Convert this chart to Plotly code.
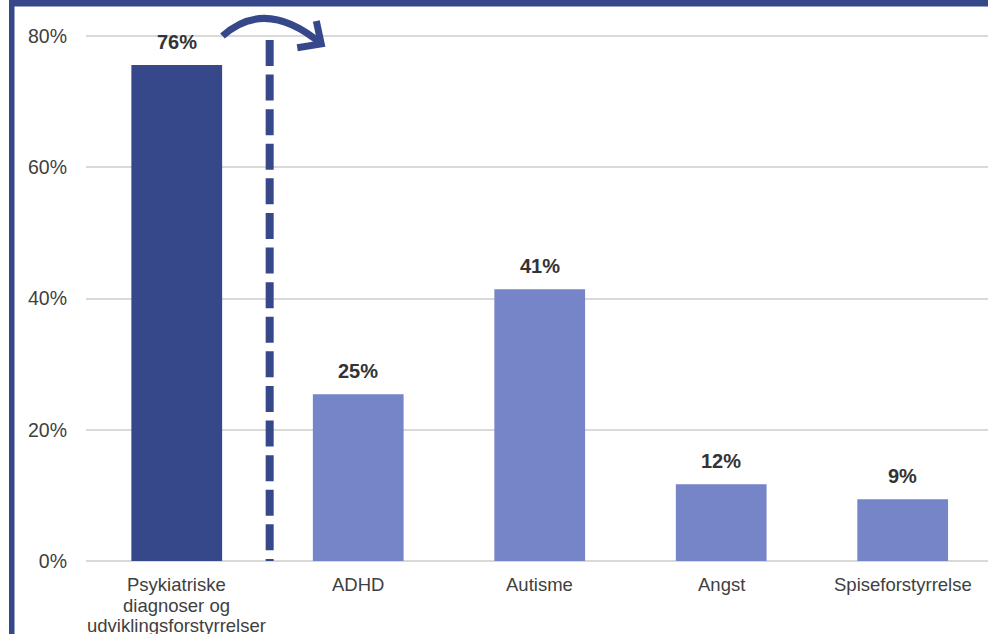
import plotly.graph_objects as go

# data
categories = ["Psykiatriske diagnoser og udviklingsforstyrrelser",
              "ADHD", "Autisme", "Angst", "Spiseforstyrrelse"]
category_lines = [["Psykiatriske", "diagnoser og", "udviklingsforstyrrelser"],
                  ["ADHD"], ["Autisme"], ["Angst"], ["Spiseforstyrrelse"]]
values = [75.6, 25.4, 41.4, 11.7, 9.4]
labels = ["76%", "25%", "41%", "12%", "9%"]
y_ticks = [0, 20, 40, 60, 80]
y_tick_text = ["0%", "20%", "40%", "60%", "80%"]

DARK = "#36478a"
LIGHT = "#7685c7"
TEXT = "#404040"
FONT = "Liberation Sans, Arial, sans-serif"

x_pos = list(range(len(categories)))
colors = [DARK] + [LIGHT] * (len(categories) - 1)


def create_bar_trace():
    return go.Bar(
        x=x_pos, y=values,
        marker=dict(color=colors, line=dict(width=0)),
        width=0.5,
        hovertext=categories, hoverinfo="text+y",
    )


def create_value_labels():
    anns = []
    for x, v, t in zip(x_pos, values, labels):
        anns.append(dict(
            x=x, y=v, xref="x", yref="y", text=t, showarrow=False,
            yanchor="bottom", yshift=10,
            font=dict(family=FONT, size=20, color="#333333", weight="bold"),
        ))
    return anns


def create_category_labels():
    # category names under the bars; line spacing tighter than plotly's <br>
    anns = []
    for x, lines in zip(x_pos, category_lines):
        for i, line in enumerate(lines):
            anns.append(dict(
                x=x, y=0, xref="x", yref="paper", text=line, showarrow=False,
                yanchor="top", yshift=-11 - 20.5 * i,
                font=dict(family=FONT, size=18.5, color=TEXT),
            ))
    return anns


def create_decorations():
    shapes = []
    # frame strips on left and top
    shapes.append(dict(type="rect", xref="paper", yref="paper",
                       x0=(9 - 86) / 902, x1=(14.5 - 86) / 902,
                       y0=-0.2, y1=561 / 551,
                       fillcolor=DARK, line=dict(width=0), layer="above"))
    shapes.append(dict(type="rect", xref="paper", yref="paper",
                       x0=(9 - 86) / 902, x1=1.05,
                       y0=(561 - 6.5) / 551, y1=561 / 551,
                       fillcolor=DARK, line=dict(width=0), layer="above"))
    # dashed divider between first and remaining bars
    shapes.append(dict(type="line", xref="x", yref="y",
                       x0=0.512, x1=0.512, y0=79.4, y1=0,
                       line=dict(color=DARK, width=8, dash="26px,8.6px"),
                       layer="above"))
    # curved arrow
    shapes.append(dict(type="path", xref="x", yref="y",
                       path="M 0.252,80.0 Q 0.49,85.9 0.796,78.8",
                       line=dict(color=DARK, width=7), layer="above"))
    shapes.append(dict(type="path", xref="x", yref="y",
                       path="M 0.769,82.3 L 0.796,78.8 L 0.664,78.2",
                       line=dict(color=DARK, width=7), layer="above"))
    return shapes


def create_layout():
    return go.Layout(
        width=988, height=634,
        margin=dict(l=86, r=0, t=10, b=73),
        plot_bgcolor="white", paper_bgcolor="white",
        showlegend=False,
        xaxis=dict(
            range=[-0.5, 4.47],
            tickvals=x_pos, showticklabels=False,
            showgrid=False, zeroline=False, showline=False, ticks="",
            fixedrange=True,
        ),
        yaxis=dict(
            range=[0, 551 / 6.5625],
            tickvals=y_ticks, ticktext=y_tick_text,
            tickfont=dict(family=FONT, size=19.5, color=TEXT),
            showgrid=True, gridcolor="#d9d9d9", gridwidth=1.5,
            zeroline=True, zerolinecolor="#d9d9d9", zerolinewidth=1.5,
            showline=False, ticks="", ticklabelstandoff=18,
            fixedrange=True,
        ),
        annotations=create_value_labels() + create_category_labels(),
        shapes=create_decorations(),
    )


fig = go.Figure(data=[create_bar_trace()], layout=create_layout())
fig.write_html("out.html", config={"displayModeBar": False},
               post_script="document.body.style.margin='0';")
